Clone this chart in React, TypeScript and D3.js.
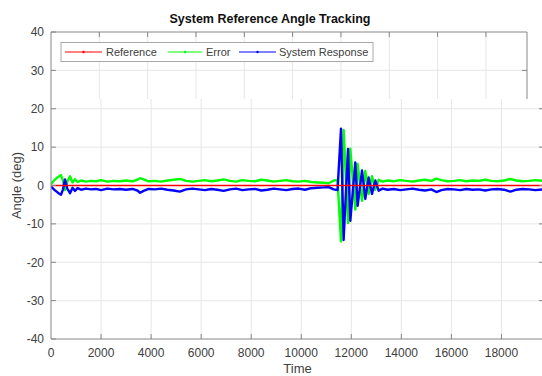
import React from 'react';
import * as d3 from 'd3';

// Axis ticks
const timeTicks = [0, 2000, 4000, 6000, 8000, 10000, 12000, 14000, 16000, 18000];
const angleTicks = [-40, -30, -20, -10, 0, 10, 20, 30, 40];

// Legend entries
const seriesNames = ['Reference', 'Error', 'System Response'];
const seriesColors = ['#ff0000', '#00ff00', '#0000ff'];

// Reference angle (constant set point)
const refTime = [0, 19700];
const refAngle = [0, 0];

// Sample times shared by the error and response traces
const time = [
  0, 150, 300, 400, 480, 560, 650, 760, 860, 960, 1060, 1200, 1400, 1600, 1800,
  2000, 2250, 2500, 2750, 3000, 3250, 3450, 3560, 3700, 3900, 4150, 4400, 4650,
  4900, 5150, 5400, 5650, 5900, 6150, 6400, 6650, 6900, 7150, 7400, 7650, 7900,
  8150, 8400, 8650, 8900, 9150, 9400, 9650, 9900, 10150, 10400, 10650, 10900,
  11100, 11300, 11450, 11588, 11693, 11868, 11960, 12160, 12253, 12428, 12560,
  12692, 12828, 12960, 13093, 13250, 13450, 13700, 13950, 14200, 14450, 14700,
  14950, 15200, 15400, 15600, 15850, 16100, 16350, 16600, 16850, 17100, 17350,
  17600, 17850, 18100, 18360, 18600, 18850, 19100, 19350, 19700,
];

// System response angle (deg)
const response = [
  -0.3, -1.2, -2.0, -2.4, -1.0, 1.6, -0.8, -2.0, -0.6, -1.4, -0.7, -1.1, -0.8, -1.0, -0.9,
  -1.2, -0.8, -1.0, -0.9, -1.1, -0.9, -1.3, -1.9, -1.4, -0.9, -1.0, -0.8, -1.1,
  -1.3, -1.6, -1.0, -0.8, -1.0, -1.2, -0.9, -1.1, -1.4, -1.0, -0.8, -1.2, -1.0,
  -0.9, -1.3, -1.1, -0.8, -1.0, -1.2, -0.9, -0.8, -1.1, -0.7, -0.6, -0.5,
  -0.4, -1.0, -1.2, 14.8, -14.2, 9.5, -9.2, 6.0, -5.3, 3.9, -3.5,
  2.1, -2.2, 1.3, -1.35, -0.8, -1.1, -0.9, -1.2, -1.0, -0.8, -1.1,
  -1.3, -1.0, -1.7, -1.2, -0.9, -1.0, -1.2, -0.9, -1.1, -1.0, -1.3,
  -1.0, -0.9, -1.1, -1.6, -1.1, -0.9, -1.0, -1.2, -1.0,
];

// Tracking error (deg)
const error = [
  0.4, 1.5, 2.3, 2.7, 1.2, -1.2, 1.0, 2.4, 0.8, 1.6, 0.9, 1.3, 1.0, 1.2, 1.1,
  1.4, 1.0, 1.2, 1.1, 1.3, 1.1, 1.5, 1.9, 1.6, 1.1, 1.2, 1.0, 1.3,
  1.5, 1.7, 1.2, 1.0, 1.2, 1.4, 1.1, 1.3, 1.6, 1.2, 1.0, 1.4, 1.2,
  1.1, 1.5, 1.3, 1.0, 1.2, 1.4, 1.1, 1.0, 1.2, 0.9, 0.8, 0.7,
  0.6, 1.3, 1.4, -14.6, 14.5, -9.8, 9.6, -6.3, 5.6, -4.0, 3.8,
  -2.2, 2.4, -1.1, 1.5, 1.0, 1.3, 1.1, 1.4, 1.2, 1.0, 1.3,
  1.5, 1.2, 1.8, 1.4, 1.1, 1.2, 1.4, 1.1, 1.3, 1.2, 1.5,
  1.2, 1.1, 1.3, 1.7, 1.3, 1.1, 1.2, 1.4, 1.2,
];

const W = 542;
const H = 376;
const left = 51;
const mainRight = 544;
const topRight = 527;
const plotTop = 32;
const plotBottom = 339;
const stripBreak = 99;
const tickLen = 5;

const font = '"Liberation Sans", Arial, Helvetica, sans-serif';
const spine = '#868686';
const grid = '#e6e6e6';
const labelColor = '#404040';

export default function App() {
  const y = d3.scaleLinear().domain([-40, 40]).range([plotBottom, plotTop]);
  const xMain = d3.scaleLinear().domain([0, 19700]).range([left, mainRight]);
  const xTop = d3.scaleLinear().domain([0, 19700]).range([left, topRight]);

  const line = d3
    .line<[number, number]>()
    .x((d) => xMain(d[0]))
    .y((d) => y(d[1]));

  const zip = (ts: number[], vs: number[]) => ts.map((t, i) => [t, vs[i]] as [number, number]);

  const lowerGridY = angleTicks.filter((v) => y(v) > stripBreak && v > -40);
  const topGridY = angleTicks.filter((v) => y(v) < stripBreak && v < 40);

  const legendX = 61;
  const legendY = 42.5;
  const legendMid = legendY + 9.5;
  const legendItems = [
    { x0: 65, x1: 102, tx: 106 },
    { x0: 168, x1: 202, tx: 206 },
    { x0: 239, x1: 276, tx: 279 },
  ];

  return (
    <svg
      width={W}
      height={H}
      style={{ position: 'absolute', left: 0, top: 0, background: '#fff' }}
      fontFamily={font}
    >
      <defs>
        <clipPath id="lowerClip">
          <rect x={left} y={stripBreak} width={mainRight - left} height={plotBottom - stripBreak} />
        </clipPath>
      </defs>
      <rect x={0} y={0} width={W} height={H} fill="#fff" />

      {/* upper strip: grid */}
      {timeTicks.slice(1).map((t) => (
        <line key={'tg' + t} x1={xTop(t)} x2={xTop(t)} y1={plotTop} y2={stripBreak} stroke={grid} />
      ))}
      {topGridY.map((v) => (
        <line key={'tgy' + v} x1={left} x2={topRight} y1={y(v)} y2={y(v)} stroke={grid} />
      ))}

      {/* lower strip: grid */}
      {timeTicks.slice(1).map((t) => (
        <line key={'mg' + t} x1={xMain(t)} x2={xMain(t)} y1={stripBreak} y2={plotBottom} stroke={grid} />
      ))}
      {lowerGridY.map((v) => (
        <line key={'mgy' + v} x1={left} x2={mainRight} y1={y(v)} y2={y(v)} stroke={grid} />
      ))}

      {/* data traces */}
      <g clipPath="url(#lowerClip)" fill="none" strokeLinejoin="round">
        <path d={line(zip(time, error)) || ''} stroke={seriesColors[1]} strokeWidth={2.4} />
        <path d={line(zip(time, response)) || ''} stroke={seriesColors[2]} strokeWidth={2.4} />
        <path d={line(zip(refTime, refAngle)) || ''} stroke={seriesColors[0]} strokeWidth={1.6} />
      </g>

      {/* upper strip: box and ticks */}
      <line x1={left} x2={topRight} y1={plotTop} y2={plotTop} stroke={spine} />
      <line x1={topRight} x2={topRight} y1={plotTop} y2={stripBreak} stroke={spine} />
      {timeTicks.slice(1).map((t) => (
        <line key={'tt' + t} x1={xTop(t)} x2={xTop(t)} y1={plotTop} y2={plotTop + tickLen} stroke={spine} />
      ))}
      {topGridY.map((v) => (
        <line key={'trt' + v} x1={topRight - tickLen} x2={topRight} y1={y(v)} y2={y(v)} stroke={spine} />
      ))}

      {/* lower strip: box and ticks */}
      <line x1={left} x2={mainRight} y1={plotBottom} y2={plotBottom} stroke={spine} />
      <line x1={mainRight} x2={mainRight} y1={stripBreak} y2={plotBottom} stroke={spine} />
      {timeTicks.slice(1).map((t) => (
        <line key={'bt' + t} x1={xMain(t)} x2={xMain(t)} y1={plotBottom - tickLen} y2={plotBottom} stroke={spine} />
      ))}
      {lowerGridY.map((v) => (
        <line key={'brt' + v} x1={mainRight - tickLen} x2={mainRight} y1={y(v)} y2={y(v)} stroke={spine} />
      ))}

      {/* left spine and y ticks */}
      <line x1={left} x2={left} y1={plotTop} y2={plotBottom} stroke={spine} />
      {angleTicks.map((v) => (
        <line key={'lt' + v} x1={left} x2={left + tickLen} y1={y(v)} y2={y(v)} stroke={spine} />
      ))}

      {/* tick labels */}
      {angleTicks.map((v) => (
        <text key={'yl' + v} x={44} y={y(v) + 4.3} textAnchor="end" fontSize={12} fill={labelColor}>
          {v}
        </text>
      ))}
      {timeTicks.map((t) => (
        <text key={'xl' + t} x={xMain(t)} y={357} textAnchor="middle" fontSize={12} fill={labelColor}>
          {t}
        </text>
      ))}

      {/* axis titles */}
      <text x={(left + mainRight) / 2} y={372.5} textAnchor="middle" fontSize={13} fill={labelColor}>
        Time
      </text>
      <text
        transform={`translate(21, ${(plotTop + plotBottom) / 2}) rotate(-90)`}
        textAnchor="middle"
        fontSize={13}
        fill={labelColor}
      >
        Angle (deg)
      </text>
      <text x={270} y={23} textAnchor="middle" fontSize={12.5} fontWeight="bold" fill="#111">
        System Reference Angle Tracking
      </text>

      {/* legend */}
      <rect x={legendX} y={legendY} width={312} height={19} fill="#fff" stroke="#a8a8a8" />
      {legendItems.map((it, i) => (
        <g key={'lg' + i}>
          <line x1={it.x0} x2={it.x1} y1={legendMid} y2={legendMid} stroke={seriesColors[i]} strokeWidth={1} />
          <circle cx={(it.x0 + it.x1) / 2} cy={legendMid} r={1.2} fill={seriesColors[i]} />
          <text x={it.tx} y={legendMid + 4} fontSize={11} fill={labelColor}>
            {seriesNames[i]}
          </text>
        </g>
      ))}
    </svg>
  );
}
